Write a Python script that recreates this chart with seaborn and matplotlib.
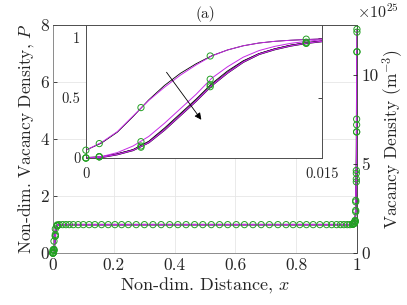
import matplotlib
matplotlib.use("Agg")
import matplotlib.pyplot as plt
import seaborn as sns

# ------------------------------------------
# data
# ------------------------------------------
# boundary layer near x = 0 (inset range)
bl_x = [0.0, 0.001, 0.002, 0.003, 0.004, 0.005, 0.006, 0.007, 0.008,
        0.009, 0.010, 0.011, 0.012, 0.013, 0.014, 0.015]
bl_a_mag = [0.065, 0.13, 0.22, 0.35, 0.48, 0.59, 0.69, 0.775, 0.85,
            0.90, 0.935, 0.958, 0.972, 0.981, 0.987, 0.992]
bl_a_blk = [0.065, 0.125, 0.215, 0.345, 0.485, 0.605, 0.705, 0.785, 0.852,
            0.90, 0.935, 0.958, 0.972, 0.981, 0.987, 0.992]
bl_b = [0.0, 0.012, 0.045, 0.10, 0.18, 0.29, 0.41, 0.53, 0.665,
        0.76, 0.84, 0.895, 0.93, 0.955, 0.972, 0.985]
bl_c = [0.0, 0.008, 0.035, 0.07, 0.14, 0.25, 0.37, 0.49, 0.62,
        0.725, 0.81, 0.87, 0.91, 0.94, 0.96, 0.975]
bl_d = [0.0, 0.007, 0.03, 0.065, 0.13, 0.235, 0.355, 0.475, 0.605,
        0.71, 0.80, 0.865, 0.905, 0.935, 0.957, 0.972]

# mesh nodes (green circles) inside the inset range
node_x = [0.0, 0.00085, 0.0035, 0.0079, 0.014]
node_a = [0.065, 0.12, 0.42, 0.85, 0.99]
node_b = [0.0, 0.01, 0.136, 0.656, 0.965]
node_c = [0.0, 0.01, 0.10, 0.61, 0.958]
node_d = [0.0, 0.01, 0.09, 0.594, 0.955]

# plateau region
plateau = 1.0
mid_x = [0.010, 0.021, 0.032, 0.043, 0.054, 0.067, 0.083, 0.100, 0.119,
         0.138, 0.160, 0.182, 0.204, 0.226, 0.248, 0.274, 0.301, 0.329,
         0.356, 0.384, 0.411, 0.438, 0.466, 0.493, 0.521, 0.548, 0.575,
         0.603, 0.630, 0.658, 0.685, 0.712, 0.740, 0.767, 0.790, 0.812,
         0.834, 0.856, 0.878, 0.900, 0.917, 0.933, 0.946, 0.957, 0.968,
         0.977]

# boundary layer near x = 1
br_x = [0.98, 0.986, 0.991, 0.994, 0.996, 0.998, 0.999, 1.0]
br_a = [1.0, 1.02, 1.06, 1.15, 1.85, 2.9, 4.7, 7.85]
br_b = [1.0, 1.02, 1.05, 1.12, 1.8, 2.8, 4.5, 7.75]
br_c = [1.0, 1.01, 1.04, 1.10, 1.5, 2.6, 4.25, 7.06]
br_d = [1.0, 1.01, 1.04, 1.10, 1.45, 2.5, 4.25, 7.06]

x_ticks = [0, 0.2, 0.4, 0.6, 0.8, 1]
x_tick_labels = ["0", "0.2", "0.4", "0.6", "0.8", "1"]
p_ticks = [0, 2, 4, 6, 8]
n_ticks = [0, 5, 10]
scale_n = 1.6  # 10^25 m^-3 per unit P

MAG = "#c62ae6"
GRN = "#23a023"

sns.set_style("white")
plt.rcParams["font.family"] = ["cmr10", "DejaVu Serif"]
plt.rcParams["mathtext.fontset"] = "cm"
plt.rcParams["axes.unicode_minus"] = False
plt.rcParams["xtick.direction"] = "in"
plt.rcParams["ytick.direction"] = "in"

fig = plt.figure(figsize=(4.07, 3.05), dpi=100)
ax = fig.add_axes([0.130, 0.170, 0.747, 0.748])


def line(axis, xs, ys, color, lw):
    sns.lineplot(x=xs, y=ys, ax=axis, color=color, lw=lw,
                 estimator=None, sort=False, legend=False)


def nodes(axis, xs, ys):
    sns.scatterplot(x=xs, y=ys, ax=axis, marker="o", s=20,
                    facecolor="none", edgecolor=GRN, linewidth=0.7,
                    legend=False, clip_on=False, zorder=5)


# ---------------- main axes ----------------
flat_x = [0.03, 0.5, 0.97]
flat_y = [plateau, plateau, plateau]
full_x = bl_x + flat_x + br_x
line(ax, full_x, bl_a_blk + flat_y + br_a, "black", 0.6)
line(ax, full_x, bl_c + flat_y + br_c, "black", 0.6)
line(ax, full_x, bl_d + flat_y + br_d, "black", 1.1)
line(ax, full_x, bl_a_mag + flat_y + br_a, MAG, 0.6)
line(ax, full_x, bl_b + flat_y + br_b, MAG, 0.6)
line(ax, full_x, bl_d + flat_y + br_d, MAG, 0.8)

for nd, br in [(node_a, br_a), (node_b, br_b), (node_c, br_c), (node_d, br_d)]:
    nodes(ax, node_x + br_x[1:], nd + br[1:])
nodes(ax, mid_x[1:], [plateau] * len(mid_x[1:]))

ax.set_xlim(0, 1)
ax.set_ylim(0, 8)
ax.set_xticks(x_ticks)
ax.set_xticklabels(x_tick_labels)
ax.set_yticks(p_ticks)
ax.set_yticklabels([str(t) for t in p_ticks])
ax.tick_params(labelsize=12.5, length=3, width=0.6, colors="0.15",
               top=False, pad=3)
ax.grid(True, color="0.9", lw=0.6)
for s in ["left", "bottom"]:
    ax.spines[s].set_color("0.55")
ax.spines["top"].set_color("0.3")
ax.spines["right"].set_color("0.3")
for s in ax.spines.values():
    s.set_linewidth(0.7)
ax.set_xlabel("Non-dim. Distance, $x$", fontsize=13, labelpad=2)
ax.set_ylabel("Non-dim. Vacancy Density, $P$", fontsize=12.5, labelpad=3)
ax.set_title("(a)", fontsize=11, pad=5)

# right axis: dimensional density
ax2 = ax.twinx()
ax2.set_ylim(0, 8 * scale_n)
ax2.set_yticks(n_ticks)
ax2.set_yticklabels([str(t) for t in n_ticks])
ax2.tick_params(labelsize=12.5, length=3, width=0.6, colors="0.15", pad=3)
for s in ax2.spines.values():
    s.set_visible(False)
ax2.set_ylabel("Vacancy Density (m$^{-3}$)", fontsize=12.5, labelpad=1)
ax2.text(1.0, 1.02, r"$\times10^{25}$", transform=ax2.transAxes,
         fontsize=11.5, ha="left", va="bottom")

# ---------------- inset ----------------
ins = fig.add_axes([0.211, 0.482, 0.580, 0.436])
ins.set_facecolor("white")
line(ins, bl_x, bl_a_blk, "black", 0.6)
line(ins, bl_x, bl_c, "black", 0.6)
line(ins, bl_x, bl_d, "black", 1.3)
line(ins, bl_x, bl_a_mag, MAG, 0.7)
line(ins, bl_x, bl_b, MAG, 0.7)
line(ins, bl_x, bl_d, MAG, 0.9)
for nd in [node_a, node_b, node_c, node_d]:
    nodes(ins, node_x, nd)

ins.annotate("", xy=(0.00744, 0.30), xytext=(0.00502, 0.733),
             arrowprops=dict(arrowstyle="-|>", color="black", lw=0.6,
                             mutation_scale=10))
ins.set_xlim(0, 0.015)
ins.set_ylim(0, 1.108)
ins.set_xticks([0, 0.015])
ins.set_xticklabels(["0", "0.015"])
ins.set_yticks([0, 0.5, 1])
ins.set_yticklabels(["0", "0.5", "1"])
ins.tick_params(labelsize=10.5, length=3, width=0.6, colors="0.15",
                top=True, right=True, pad=4)
ins.tick_params(axis="x", pad=7)
for s in ins.spines.values():
    s.set_color("0.3")
    s.set_linewidth(0.7)
ins.set_xlabel("")
ins.set_ylabel("")

fig.savefig("out.png", dpi=100)
